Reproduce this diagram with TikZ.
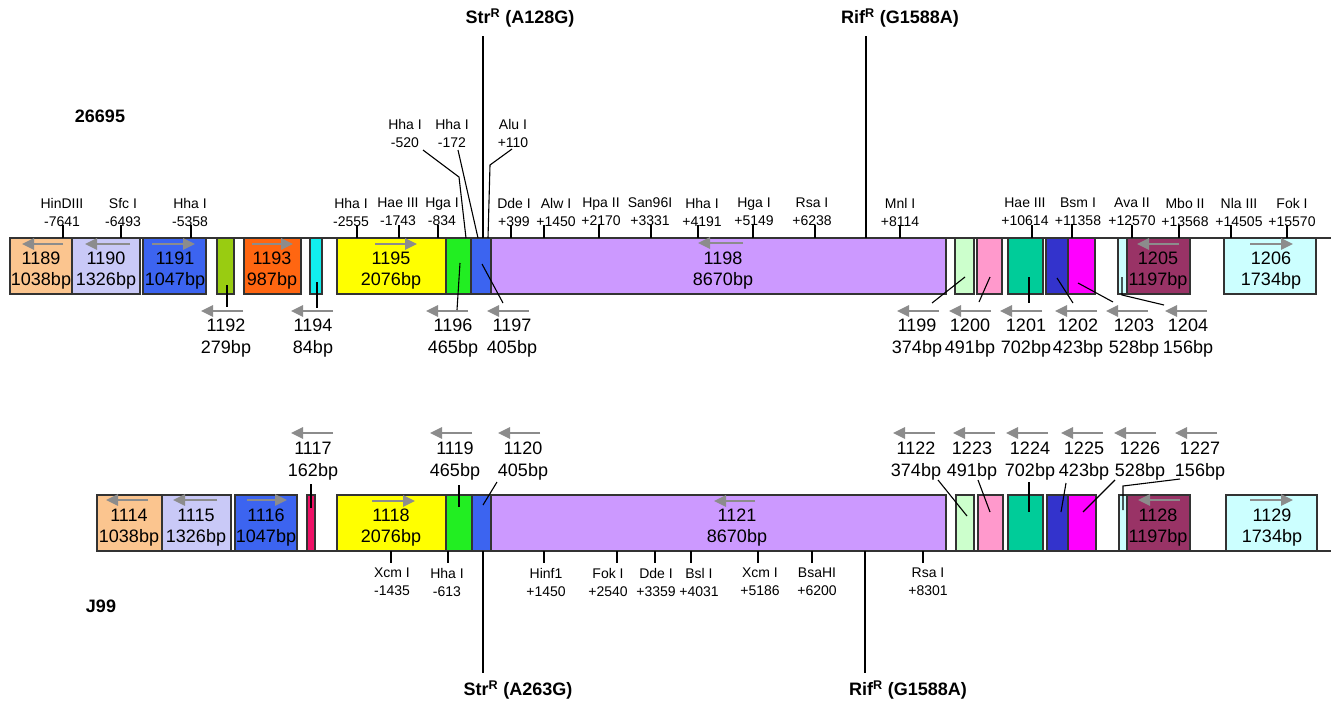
\documentclass[tikz,border=0pt]{standalone}
\usepackage{fontspec}
\setmainfont{Liberation Sans}
\usetikzlibrary{arrows.meta}
\definecolor{cPeach}{HTML}{FBC58F}
\definecolor{cLav}{HTML}{C9C9F7}
\definecolor{cBlue}{HTML}{3C64F0}
\definecolor{cYG}{HTML}{99CC11}
\definecolor{cOrange}{HTML}{FF6611}
\definecolor{cCyan}{HTML}{11EEEE}
\definecolor{cYellow}{HTML}{FFFF00}
\definecolor{cGreen}{HTML}{22EE22}
\definecolor{cPurple}{HTML}{CC99FF}
\definecolor{cLGreen}{HTML}{CCFFCC}
\definecolor{cPink}{HTML}{FF99CC}
\definecolor{cTeal}{HTML}{00CC99}
\definecolor{cDBlue}{HTML}{3333CC}
\definecolor{cMag}{HTML}{FF00FF}
\definecolor{cLCyan}{HTML}{CCFFFF}
\definecolor{cMaroon}{HTML}{993366}
\definecolor{cCrimson}{HTML}{EE1166}
\definecolor{arrgray}{HTML}{8C8C8C}
\definecolor{lineg}{HTML}{333333}
\tikzset{
  gbox/.style={draw=lineg, line width=1.2pt, minimum height=56pt, inner sep=0pt, outer sep=0pt},
  boxtxt/.style={font=\fontsize{18}{21}\selectfont, align=center, inner sep=0pt},
  lowtxt/.style={font=\fontsize{18}{22}\selectfont, align=center, inner sep=0pt},
  site/.style={font=\fontsize{14}{18}\selectfont, align=center, inner sep=0pt},
  big/.style={font=\fontsize{18}{22}\selectfont\bfseries, inner sep=0pt},
  garrow/.style={draw=arrgray, line width=2.6pt, -{Triangle[length=12pt,width=11pt]}},
  leader/.style={draw=black, line width=1.1pt},
  tick/.style={draw=black, line width=1.1pt},
  backbone/.style={draw=lineg, line width=1.4pt},
}
\newcommand{\topsite}[5]{% name, tickx, labelx, line1, line2
  \node[site] (#1) at (#3,212) {#4\\#5};
  \draw[tick] (#2,225) -- (#2,238);}
\newcommand{\botsite}[5]{%
  \node[site] (#1) at (#3,582) {#4\\#5};
  \draw[tick] (#2,551) -- (#2,563);}
\begin{document}
\begin{tikzpicture}[x=1pt,y=-1pt]
\useasboundingbox (0,0) rectangle (1331,705);
\fill[white] (0,0) rectangle (1331,705);

% ---------------- TOP ROW (26695) ----------------
\node[big] (n26695) at (100,116) {26695};
\draw[backbone] (10,238) -- (1331,238);
\foreach \xa/\xb/\c/\n in {10/72/cPeach/1189, 72/140/cLav/1190, 143/206/cBlue/1191, 217/234/cYG/1192, 244/301/cOrange/1193, 310/322/cCyan/1194, 337/446/cYellow/1195, 446/471/cGreen/1196, 471/491/cBlue/1197, 491/946/cPurple/1198, 955/974/cLGreen/1199, 977/1002/cPink/1200, 1008/1043/cTeal/1201, 1046/1068/cDBlue/1202, 1068/1095/cMag/1203, 1118/1127/cLCyan/1204, 1127/1190/cMaroon/1205, 1224/1316/cLCyan/1206}
{\pgfmathsetmacro\w{\xb-\xa}\pgfmathsetmacro\cx{(\xa+\xb)/2}
 \node[gbox, fill=\c, minimum width=\w pt] (b\n) at (\cx,266) {};}

% arrows inside boxes
\draw[garrow] (63,244) -- (22,244);
\draw[garrow] (130,244) -- (85,244);
\draw[garrow] (152,244) -- (195,244);
\draw[garrow] (252,244) -- (293,244);
\draw[garrow] (375,244) -- (417,244);
\draw[garrow] (743,243) -- (698,243);
\draw[garrow] (1179,244) -- (1137,244);
\draw[garrow] (1250,244) -- (1293,244);

% texts inside boxes
\node[boxtxt] (t1189) at (41,271) {1189\\1038bp};
\node[boxtxt] (t1190) at (106,271) {1190\\1326bp};
\node[boxtxt] (t1191) at (175,271) {1191\\1047bp};
\node[boxtxt] (t1193) at (272,271) {1193\\987bp};
\node[boxtxt] (t1195) at (391,271) {1195\\2076bp};
\node[boxtxt] (t1198) at (723,271) {1198\\8670bp};
\node[boxtxt] (t1205) at (1158,271) {1205\\1197bp};
\node[boxtxt] (t1206) at (1271,271) {1206\\1734bp};

% restriction sites (top)
\topsite{s1}{63}{62}{HinDIII}{-7641}
\topsite{s2}{121}{123}{Sfc I}{-6493}
\topsite{s3}{191}{190}{Hha I}{-5358}
\topsite{s4}{357}{351}{Hha I}{-2555}
\topsite{s5}{399}{398}{Hae III}{-1743}
\topsite{s6}{438}{442}{Hga I}{-834}
\topsite{s7}{511}{514}{Dde I}{+399}
\topsite{s8}{544}{556}{Alw I}{+1450}
\topsite{s9}{599}{601}{Hpa II}{+2170}
\topsite{s10}{651}{650}{San96I}{+3331}
\topsite{s11}{698}{702}{Hha I}{+4191}
\topsite{s12}{753}{754}{Hga I}{+5149}
\topsite{s13}{815}{812}{Rsa I}{+6238}
\topsite{s14}{900}{900}{Mnl I}{+8114}
\topsite{s15}{1032}{1025}{Hae III}{+10614}
\topsite{s16}{1072}{1078}{Bsm I}{+11358}
\topsite{s17}{1132}{1132}{Ava II}{+12570}
\topsite{s18}{1179}{1185}{Mbo II}{+13568}
\topsite{s19}{1231}{1239}{Nla III}{+14505}
\topsite{s20}{1287}{1292}{Fok I}{+15570}

% upper sites with bent leaders
\node[site] (s21) at (405,133) {Hha I\\-520};
\node[site] (s22) at (452,133) {Hha I\\-172};
\node[site] (s23) at (513,133) {Alu I\\+110};
\draw[leader] (423,150) -- (459,177) -- (466,238);
\draw[leader] (458,150) -- (478,238);
\draw[leader] (512,149) -- (490,165) -- (488,238);

% resistance markers (top)
\node[big] (strT) at (520,18) {Str\textsuperscript{R} (A128G)};
\node[big] (rifT) at (900,18) {Rif\textsuperscript{R} (G1588A)};
\draw[leader] (483,36) -- (483,238);
\draw[leader] (866,36) -- (866,238);

% labels below top boxes
\foreach \x/\n/\bp/\ax in {226/1192/279bp/243, 313/1194/84bp/333, 453/1196/465bp/468, 512/1197/405bp/529, 917/1199/374bp/939, 970/1200/491bp/991, 1026/1201/702bp/1042, 1078/1202/423bp/1097, 1134/1203/528bp/1148, 1188/1204/156bp/1207}
{\node[lowtxt] (l\n) at (\x,338) {\n\\\bp};
 \draw[garrow] (\ax,311) -- ({\ax-42},311);}
\draw[leader] (227,285) -- (227,307);
\draw[leader] (317,282) -- (317,308);
\draw[leader] (460,263) -- (457,310);
\draw[leader] (482,264) -- (503,303);
\draw[leader] (965,277) -- (932,303);
\draw[leader] (990,277) -- (979,302);
\draw[leader] (1029,277) -- (1029,303);
\draw[leader] (1057,278) -- (1073,303);
\draw[leader] (1078,283) -- (1113,302);
\draw[leader] (1122,277) -- (1122,295) -- (1164,305);

% ---------------- BOTTOM ROW (J99) ----------------
\node[big] (nJ99) at (101,606) {J99};
\draw[backbone] (97,551) -- (1331,551);
\foreach \xa/\xb/\c/\n in {97/162/cPeach/1114, 162/231/cLav/1115, 235/297/cBlue/1116, 307/315/cCrimson/1117, 337/446/cYellow/1118, 446/472/cGreen/1119, 472/491/cBlue/1120, 491/946/cPurple/1121, 956/974/cLGreen/1122, 978/1003/cPink/1223, 1008/1043/cTeal/1224, 1047/1068/cDBlue/1225, 1068/1096/cMag/1226, 1119/1127/cLCyan/1227, 1127/1190/cMaroon/1128, 1226/1317/cLCyan/1129}
{\pgfmathsetmacro\w{\xb-\xa}\pgfmathsetmacro\cx{(\xa+\xb)/2}
 \node[gbox, fill=\c, minimum width=\w pt] (b\n) at (\cx,523) {};}

\draw[garrow] (148,500) -- (106,500);
\draw[garrow] (217,500) -- (173,500);
\draw[garrow] (247,500) -- (287,500);
\draw[garrow] (372,501) -- (415,501);
\draw[garrow] (755,501) -- (714,501);
\draw[garrow] (1180,500) -- (1138,500);
\draw[garrow] (1250,500) -- (1293,500);

\node[boxtxt] (t1114) at (129,528) {1114\\1038bp};
\node[boxtxt] (t1115) at (196,528) {1115\\1326bp};
\node[boxtxt] (t1116) at (266,528) {1116\\1047bp};
\node[boxtxt] (t1118) at (391,528) {1118\\2076bp};
\node[boxtxt] (t1121) at (737,528) {1121\\8670bp};
\node[boxtxt] (t1128) at (1158,528) {1128\\1197bp};
\node[boxtxt] (t1129) at (1272,528) {1129\\1734bp};

\botsite{u1}{391}{392}{Xcm I}{-1435}
\botsite{u2}{448}{447}{Hha I}{-613}
\botsite{u3}{544}{546}{Hinf1}{+1450}
\botsite{u4}{617}{608}{Fok I}{+2540}
\botsite{u5}{655}{656}{Dde I}{+3359}
\botsite{u6}{691}{699}{Bsl I}{+4031}
\botsite{u7}{758}{760}{Xcm I}{+5186}
\botsite{u8}{812}{817}{BsaHI}{+6200}
\botsite{u9}{923}{928}{Rsa I}{+8301}

\node[big] (strB) at (518,690) {Str\textsuperscript{R} (A263G)};
\node[big] (rifB) at (908,690) {Rif\textsuperscript{R} (G1588A)};
\draw[leader] (483,551) -- (483,673);
\draw[leader] (865,551) -- (865,673);

\foreach \x/\n/\bp/\ax in {313/1117/162bp/333, 455/1119/465bp/472, 523/1120/405bp/540, 916/1122/374bp/935, 972/1223/491bp/995, 1030/1224/702bp/1048, 1084/1225/423bp/1103, 1140/1226/528bp/1156, 1200/1227/156bp/1217}
{\node[lowtxt] (m\n) at (\x,461) {\n\\\bp};
 \draw[garrow] (\ax,433) -- ({\ax-42},433);}
\draw[leader] (311,484) -- (311,508);
\draw[leader] (459,485) -- (459,507);
\draw[leader] (497,482) -- (483,505);
\draw[leader] (938,480) -- (967,516);
\draw[leader] (978,480) -- (990,512);
\draw[leader] (1029,482) -- (1029,512);
\draw[leader] (1066,483) -- (1061,512);
\draw[leader] (1115,480) -- (1083,512);
\draw[leader] (1180,479) -- (1123,486) -- (1123,510);
\end{tikzpicture}
\end{document}
